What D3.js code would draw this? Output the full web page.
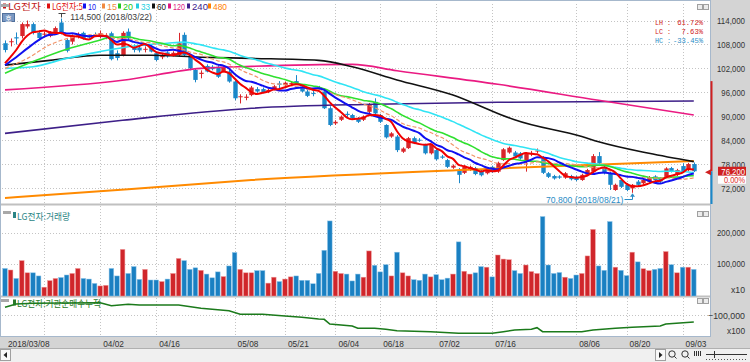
<!DOCTYPE html>
<html><head><meta charset="utf-8">
<script src="https://cdn.jsdelivr.net/npm/d3@7"></script>
<style>
body{margin:0;background:#fff;}
svg{display:block;}
.num{font-family:"Liberation Sans","Arial",sans-serif;}
.mono{font-family:"Liberation Mono","DejaVu Sans Mono",monospace;}
.kr{font-family:"Noto Sans CJK KR","Noto Sans",sans-serif;}
</style></head><body>
<svg id="c" width="750" height="362"></svg>
<script>
// ---------------- DATA ----------------
const opens = [108300,108600,109800,110100,112500,113100,110900,110500,110100,110900,
113500,109100,108700,110200,110900,110000,110500,109900,110000,110800,
105800,105300,111200,107400,107200,106700,107300,105800,104800,106000,
105300,105300,110400,104900,101600,100600,102600,102400,102400,101200,
101200,98700,94800,94600,95300,96800,96800,96200,96800,98200,
97800,98100,98800,97400,96200,95800,97200,96200,92000,88200,
89100,90600,90300,89500,89100,91100,93600,90300,87800,84900,
84900,81100,82000,84500,84100,82800,80700,81500,79900,79000,
77100,76500,75800,76600,77000,76300,75700,77300,76100,79000,
80900,80900,80700,79000,80600,81200,79500,75700,75000,74900,
74600,75000,74800,74000,75300,76100,80000,77300,75700,71500,
74000,72800,71900,73600,73200,73600,74900,74400,74800,77000,
75300,77500,76500,78000];
const highs = [109000,109500,111000,113500,114000,113500,111500,111200,111300,112500,
114500,109500,110500,111000,111200,110500,111000,111500,110800,111200,
106500,111300,112000,108000,107800,107500,107800,106200,105600,106300,
106300,110900,111000,105500,102000,101500,103000,102800,102800,102800,
101600,99000,95500,95500,97600,97300,97200,96900,97800,98800,
98700,98800,100300,97800,96600,96500,97600,97000,92500,89000,
90200,91200,90600,89800,90200,93300,94500,90600,88000,86000,
85300,82200,84800,84900,84500,83100,83100,81800,80300,79300,
77900,77000,77700,77600,77300,76600,77200,77600,78600,82000,
82400,81300,81000,81000,81300,81900,80000,76000,75300,75200,
76000,75300,75100,75600,76800,80500,81000,77600,76000,73100,
74300,73200,73000,74000,74300,75000,75200,74700,77200,77300,
76800,78200,78300,78400];
const lows = [106000,107500,108000,109500,112000,110500,109000,110000,109800,110500,
110500,106000,108000,109500,109200,109500,110000,109500,109300,104000,
104000,105000,109000,106000,106000,106000,106000,103800,104300,104700,
105000,105000,105000,101500,98500,99500,101000,101500,99600,101000,
98400,94000,93200,94000,95000,95900,95800,95800,96500,97000,
97500,97600,97800,96000,94800,95000,96500,91800,87500,87800,
88800,89800,89200,88300,88800,90500,90000,88300,84400,84600,
81000,80800,81800,83000,83600,80400,80400,78900,79300,77000,
76800,73200,75500,76300,75200,74900,75400,75800,75800,78800,
80600,79600,79100,76100,80000,80700,75500,74500,74100,74300,
74300,73900,73700,73800,75000,75800,77800,75400,71500,71300,
72000,71200,70800,72500,72900,73300,73700,73300,74500,75900,
75000,76000,76200,76000];
const closes = [106600,108800,109500,113100,113100,110900,109600,110700,110900,112100,
111000,106400,110100,110400,109600,109800,110200,110800,110100,104300,
104600,110900,109500,106600,106500,106900,106200,104100,105300,105000,
105900,108300,105300,102000,99100,100900,101200,101800,99900,102400,
98700,94500,95000,94900,97200,96200,96000,96600,97500,97900,
98400,98300,98000,96200,95100,95600,96800,92000,87800,88600,
89900,90300,89500,88600,89900,92800,90700,88600,84700,85700,
81500,81900,84500,83200,83900,80700,82800,79200,79600,77300,
77600,75300,77400,77300,75500,75200,76900,76100,78300,81700,
82100,79900,79400,80700,80800,81400,75800,74800,74400,74600,
75700,74200,74000,75300,76500,80000,78200,75700,72800,72800,
72300,71500,72800,72800,74000,74700,74000,73600,76900,76200,
76500,76200,78000,76200];
const volumes = [85000,80000,53000,110000,71000,71000,61000,25000,46000,53000,
56000,64000,69000,85000,53000,51000,37000,29000,31000,85000,
61000,146000,69000,91000,50000,82000,48000,48000,43000,51000,
69000,117000,110000,82000,87000,79000,67000,55000,74000,59000,
93000,136000,82000,71000,71000,78000,78000,38000,57000,43000,
51000,58000,61000,47000,47000,36000,69000,143000,237000,76000,
69000,67000,45000,67000,57000,141000,95000,74000,97000,61000,
137000,71000,61000,49000,47000,67000,58000,65000,49000,54000,
67000,170000,76000,67000,71000,91000,89000,58000,128000,115000,
113000,78000,69000,96000,75000,69000,251000,96000,69000,72000,
57000,53000,64000,69000,125000,210000,93000,79000,235000,89000,
79000,62000,137000,106000,84000,78000,82000,85000,139000,97000,
71000,89000,89000,82000];
// moving-average values read where the window reaches before the visible range: [index, value]
const ma5Head  = [[0,103300],[1,104900],[2,106600],[3,108700]];
const ma10Head = [[0,102800],[2,104800],[4,107000],[6,109100],[8,110400]];
const ma15Head = [[0,102000],[4,104500],[8,107900],[13,110000]];
const ma20Head = [[0,100800],[5,103700],[11,106800],[17,109100]];
const ma33Head = [[0,102000],[5,102400],[11,104500],[17,106200],[23,107600],[29,108300]];
const ma60Pts  = [[0,102800],[8,104000],[17,105300],[26,105300],[35,104800],[44,104500],[56,104000],[62,102400],[70,99100],[80,95300],[88,90700],[91,89100],[103,84900],[106,83600],[115,80700],[123,78600]];
const ma120Pts = [[0,96600],[21,99000],[35,102000],[44,102500],[62,103000],[70,101400],[88,98000],[106,94000],[123,90300]];
const ma240Pts = [[0,85700],[21,89000],[44,92000],[66,93000],[88,93500],[123,93800]];
const ma480Pts = [[0,69500],[22,71700],[44,74000],[88,76900],[123,78800]];
// 기관순매수누적 read points: [index, value]
const instPts = [[0,-74300],[2,-63300],[5,-61000],[17,-59000],[19,-69000],[22,-64300],[24,-66700],[31,-66700],[35,-77700],[40,-85700],[42,-97700],[46,-97700],[50,-103300],[53,-107700],[56,-113300],[57,-114300],[58,-130000],[62,-136700],[63,-144300],[66,-144300],[68,-147700],[70,-152300],[76,-155700],[81,-161000],[87,-161000],[89,-155700],[91,-150000],[94,-147700],[95,-142300],[96,-155700],[103,-155700],[105,-150000],[109,-144300],[112,-141000],[117,-136700],[118,-130000],[123,-123300]];
const priceTicks = [72000,78000,84000,90000,96000,102000,108000,114000];
const volTicks = [100000,200000];
const instTicks = [-100000];
const dateTickIdx = [0,7,17,27,41,50,59,67,77,87,102,111,121];
const dateTickLab = ['2018/03/08','','04/02','04/16','05/08','05/21','06/04','06/18','07/02','07/16','08/06','08/20','09/03'];
const legendNames = ['LG전자','LG전자:5','10','15','20','33','60','120','240','480'];
const highDateLabel = '2018/03/22', lowDateLabel = '2018/08/21';

// ---------------- LAYOUT ----------------
const svg = d3.select('#c');
const UP = '#d9252a', DN = '#1b88c9';
const n = closes.length;
const x = d3.scaleLinear().domain([0, 123]).range([5, 693.8]);
const yP = d3.scaleLinear().domain([72000, 114000]).range([188, 20.5]);
const yV = d3.scaleLinear().domain([0, 200000]).range([295, 232.5]);
const yI = d3.scaleLinear().domain([-200000, 0]).range([345, 285]);
const fmt = d3.format(',');
function tlen(s){ let w=0; for(const ch of s){ if(/[0-9]/.test(ch)) w+=4.3; else if(ch===','||ch==='.') w+=2.2; else if(ch==='/') w+=3.6; else if(ch===' ') w+=4.3; else if(ch==='('||ch===')') w+=4; else if(ch==='%') w+=6; else if(ch==='-') w+=3.5; else if(ch==='x') w+=4.3; else if(/[A-Za-z]/.test(ch)) w+=5; else w+=9; } return w; }
function ntext(g, s, xx, yy, opt={}){
  const t = g.append('text').attr('class', opt.cls||'num').attr('x',0).attr('y',0).attr('font-size',opt.fs||9.5)
    .attr('fill',opt.fill||'#333').attr('text-anchor',opt.anchor||'start').text(s);
  const w0 = t.node().getComputedTextLength();
  const target = opt.w || tlen(s);
  const sx = w0 > 0 ? Math.min(1.3, target / w0) : 1;
  t.attr('transform', `translate(${xx},${yy}) scale(${sx.toFixed(4)},1)`);
  return t;
}

svg.append('rect').attr('width',750).attr('height',362).attr('fill','#fff');
svg.append('rect').attr('x',710).attr('y',0).attr('width',40).attr('height',348).attr('fill','#d4d4d4');
svg.append('line').attr('x1',710.5).attr('x2',710.5).attr('y1',0).attr('y2',336).attr('stroke','#9a9a9a');
svg.append('rect').attr('x',0).attr('y',336).attr('width',750).attr('height',12).attr('fill','#d4d4d4');
svg.append('rect').attr('x',0).attr('y',348).attr('width',750).attr('height',14).attr('fill','#f0f0f0');
svg.append('line').attr('x1',0).attr('x2',750).attr('y1',348.5).attr('y2',348.5).attr('stroke','#b0b0b0');
svg.append('rect').attr('x',0.5).attr('y',0.5).attr('width',710).attr('height',336).attr('fill','none').attr('stroke','#a6b8cc');
[204.5, 296.5].forEach(yy => svg.append('line').attr('x1',1).attr('x2',710).attr('y1',yy).attr('y2',yy).attr('stroke','#c0c0c0').attr('stroke-width',2));

const grid = svg.append('g').attr('stroke','#c4c4c4').attr('stroke-dasharray','1,2');
priceTicks.forEach(v => grid.append('line').attr('x1',2).attr('x2',709).attr('y1',Math.round(yP(v))+0.5).attr('y2',Math.round(yP(v))+0.5));
volTicks.forEach(v => grid.append('line').attr('x1',2).attr('x2',709).attr('y1',Math.round(yV(v))+0.5).attr('y2',Math.round(yV(v))+0.5));
instTicks.forEach(v => grid.append('line').attr('x1',2).attr('x2',709).attr('y1',Math.round(yI(v))+0.5).attr('y2',Math.round(yI(v))+0.5));
dateTickIdx.forEach((d,k) => { if (k===0) return;
  const xx = Math.round(x(d))+0.5;
  [[4,203],[206,295],[298,335]].forEach(r => grid.append('line').attr('x1',xx).attr('x2',xx).attr('y1',r[0]).attr('y2',r[1]));
});

svg.append('clipPath').attr('id','cp').append('rect').attr('x',1).attr('y',3).attr('width',709).attr('height',200);
const pg = svg.append('g').attr('clip-path','url(#cp)');

// candles
const cg = pg.append('g');
for (let i=0;i<n;i++){
  const up = closes[i] >= opens[i];
  const col = up ? UP : DN;
  const cx = Math.round(x(i))+0.5;
  cg.append('line').attr('x1',cx).attr('x2',cx).attr('y1',yP(highs[i])).attr('y2',yP(lows[i])).attr('stroke',col);
  const yt = yP(Math.max(opens[i],closes[i])), yb = yP(Math.min(opens[i],closes[i]));
  cg.append('rect').attr('x',cx-2.2).attr('y',yt).attr('width',4.4).attr('height',Math.max(1,yb-yt)).attr('fill',col);
}

// moving averages
function sma(w){ const out=[]; for(let i=w-1;i<n;i++){ out.push([i, d3.mean(closes.slice(i-w+1,i+1))]); } return out; }
const lineGen = d3.line().x(d=>x(d[0])).y(d=>yP(d[1])).curve(d3.curveMonotoneX);
const mas = [
  {pts: ma480Pts, c:'#ff8a00', w:2},
  {pts: ma240Pts, c:'#3d1f88', w:1.6},
  {pts: ma120Pts, c:'#ea1a82', w:1.6},
  {pts: ma60Pts, c:'#111', w:1.6},
  {pts: ma33Head.concat(sma(33)), c:'#30e4f4', w:1.6},
  {pts: ma20Head.concat(sma(20)), c:'#2fe02f', w:1.6},
  {pts: ma15Head.concat(sma(15)), c:'#f2946a', w:1.2, dash:'4,2'},
  {pts: ma10Head.concat(sma(10)), c:'#1010f0', w:2},
  {pts: ma5Head.concat(sma(5)), c:'#f00000', w:2}
];
mas.forEach(m => pg.append('path').attr('d', lineGen(m.pts)).attr('fill','none').attr('stroke',m.c).attr('stroke-width',m.w).attr('stroke-dasharray',m.dash||null));

// legend
const legendX = [3,47,83,102,118,136,152,168,187,208];
const legendW = [33,31,8,10,10,9,9,12,16,14];
const legendCol = ['#c01818','#e01010','#1010f0','#f08a40','#22c822','#22cfe0','#111','#e0187f','#40208c','#ff8000'];
const lg = svg.append('g');
legendNames.forEach((t,k) => {
  lg.append('rect').attr('x',legendX[k]).attr('y',3.5).attr('width',3).attr('height',5).attr('fill',legendCol[k]);
  ntext(lg, t, legendX[k]+5, 9.5, {cls: k<2?'kr':'num', fill: legendCol[k], w: legendW[k], fs: 9});
});

// high / low annotations
const hiIdx = d3.maxIndex(highs), loIdx = d3.minIndex(lows);
const hiV = highs[hiIdx], loV = lows[loIdx], last = closes[n-1];
const ann = svg.append('g');
const hx = Math.round(x(hiIdx))+0.5;
ann.append('path').attr('d',`M${hx-3},13.5H${hx+4}M${hx},13.5V${yP(hiV)-1}`).attr('stroke','#444').attr('fill','none');
ntext(ann, `${fmt(hiV)} (${highDateLabel})`, 152, 19.5, {anchor:'end', fill:'#3a3a3a', fs:9});
const lx = Math.round(x(loIdx))+0.5;
ntext(ann, `${fmt(loV)} (${lowDateLabel})`, lx-9, 203, {anchor:'end', fill:'#2a8cc6', fs:9});
ann.append('path').attr('d',`M${lx-8},199.5H${lx}V${yP(loV)+3}`).attr('stroke','#2a8cc6').attr('fill','none');
ann.append('path').attr('d',`M${lx-2.5},${yP(loV)+4}L${lx},${yP(loV)+0.5}L${lx+2.5},${yP(loV)+4}Z`).attr('fill','#2a8cc6');

// 호 button
svg.append('rect').attr('x',2.5).attr('y',13.5).attr('width',12).attr('height',8).attr('fill','#7a98c2').attr('stroke','#50709c');
svg.append('text').attr('class','kr').attr('x',8.5).attr('y',20.5).attr('font-size',7).attr('fill','#fff').attr('text-anchor','middle').text('호');

// LH / LC / HC
const stats = [['LH :',(hiV/loV-1)*100,'#d02020'],['LC :',(last/loV-1)*100,'#d02020'],['HC :',(last/hiV-1)*100,'#2a8cc6']];
stats.forEach((s,k) => {
  ntext(svg, s[0], 655, 24.5+k*9, {cls:'mono', fill:s[2], w:16, fs:7.8});
  const vs = s[1].toFixed(2)+'%';
  ntext(svg, vs, 703, 24.5+k*9, {cls:'mono', fill:s[2], w:vs.length*4.3, fs:7.8, anchor:'end'});
});

// price axis labels (the current-price tag is drawn over them, as in the source)
const ax = svg.append('g');
priceTicks.forEach(v => ntext(ax, fmt(v), 745, yP(v)+3.5, {anchor:'end'}));
svg.append('line').attr('x1',711.5).attr('x2',711.5).attr('y1',yP(98800)).attr('y2',yP(last)).attr('stroke','#d02020').attr('stroke-width',2);
svg.append('line').attr('x1',711.5).attr('x2',711.5).attr('y1',yP(last)).attr('y2',204).attr('stroke',DN).attr('stroke-width',2);
svg.append('path').attr('d',`M705,${yP(last)+1}L711,${yP(last)-2}L711,${yP(last)+4}Z`).attr('fill','#d02020');
svg.append('rect').attr('x',718).attr('y',yP(last)-4.5).attr('width',28).attr('height',9).attr('fill','#d02020');
ntext(svg, fmt(last), 745, yP(last)+3.3, {anchor:'end', fill:'#fff', fs:9});
svg.append('rect').attr('x',718).attr('y',yP(last)+4.5).attr('width',28).attr('height',8).attr('fill','#fff');
ntext(svg, ((last/closes[n-1]-1)*100).toFixed(2)+'%', 745, yP(last)+11.3, {anchor:'end', fill:'#e03030', fs:8.5});

// volume
const vg = svg.append('g');
for (let i=0;i<n;i++){
  const up = closes[i] >= opens[i];
  vg.append('rect').attr('x',x(i)-2.3).attr('y',yV(volumes[i])).attr('width',4.6).attr('height',296-yV(volumes[i]))
    .attr('fill', up ? '#d0262b' : '#1a80c2').attr('stroke', up ? '#f09a9a' : '#8cc4e8').attr('stroke-width',0.5);
}
volTicks.forEach(v => ntext(ax, fmt(v), 745, yV(v)+3.5, {anchor:'end'}));
ntext(ax, 'x10', 745, 293, {anchor:'end', w:14});
svg.append('rect').attr('x',13).attr('y',212).attr('width',3).attr('height',6).attr('fill','#2b8585');
ntext(svg, 'LG전자:거래량', 17, 219.5, {cls:'kr', fill:'#2b8585', w:53, fs:9.5});

// institution cumulative
const ig = svg.append('g');
ig.append('rect').attr('x',13).attr('y',299.5).attr('width',3).attr('height',6).attr('fill','#2a7a2a');
ntext(ig, 'LG전자:기관순매수누적', 17, 306.5, {cls:'kr', fill:'#2a7a2a', w:84, fs:9.5});
ig.append('path').attr('d', d3.line().x(d=>x(d[0])).y(d=>yI(d[1]))(instPts)).attr('fill','none').attr('stroke','#1b7a1b').attr('stroke-width',1.6);
instTicks.forEach(v => ntext(ax, fmt(v), 745, yI(v)+3.5, {anchor:'end'}));
ntext(ax, 'x100', 745, 334, {anchor:'end', w:18});

// panel handles & buttons
[[1,4],[3,211],[1,299]].forEach(p => svg.append('rect').attr('x',p[0]).attr('y',p[1]).attr('width',8).attr('height',3).attr('fill','#a8a8a8'));
[4,211,298].forEach(yy => { [697,703].forEach(xx => svg.append('rect').attr('x',xx+0.5).attr('y',yy+0.5).attr('width',5).attr('height',5).attr('fill','#ececec').attr('stroke','#a0a0a0')); });

// date labels
const dg = svg.append('g');
dateTickIdx.forEach((d,k) => { if (dateTickLab[k]) ntext(dg, dateTickLab[k], x(d)+3, 346.5); });

// bottom scroll bar
svg.append('rect').attr('x',0.5).attr('y',349.5).attr('width',10).attr('height',11).attr('fill','#f8f8f8').attr('stroke','#a0a0a0');
svg.append('path').attr('d','M7,352L3.5,355L7,358Z').attr('fill','#222');
svg.append('rect').attr('x',655.5).attr('y',349.5).attr('width',10).attr('height',11).attr('fill','#f8f8f8').attr('stroke','#a0a0a0');
svg.append('path').attr('d','M659,352L662.5,355L659,358Z').attr('fill','#222');
[672,685].forEach(cx0 => { svg.append('circle').attr('cx',cx0).attr('cy',354).attr('r',3.2).attr('fill','none').attr('stroke','#333');
  svg.append('line').attr('x1',cx0+2.3).attr('y1',356.3).attr('x2',cx0+4.5).attr('y2',358.5).attr('stroke','#333'); });
svg.append('path').attr('d','M694.5,351v5M696.5,351v5M698.5,351v5M700.5,351v5').attr('stroke','#333');
svg.append('path').attr('d','M706,354.5H747M714.5,351v7').attr('stroke','#333');
svg.append('path').attr('d','M706,359.5H747').attr('stroke','#555').attr('stroke-dasharray','1,2');
</script>
</body></html>
